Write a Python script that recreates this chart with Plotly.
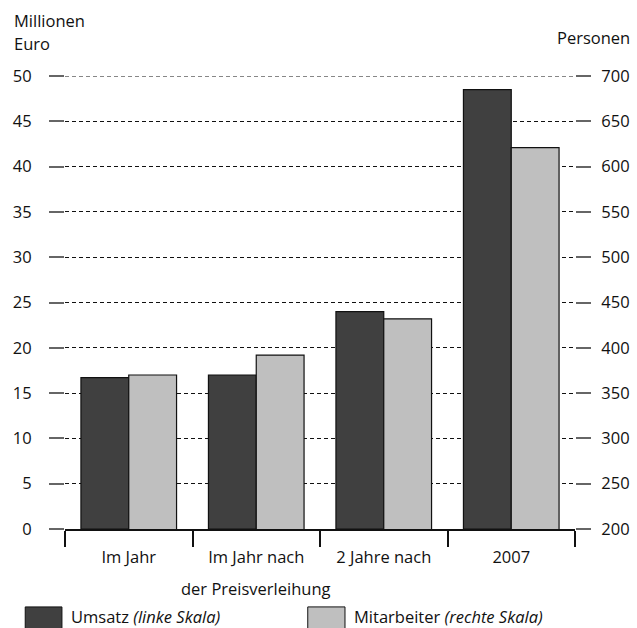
import plotly.graph_objects as go

categories = ["Im Jahr", "Im Jahr nach", "2 Jahre nach", "2007"]
umsatz = [16.7, 17.0, 24.0, 48.5]          # Millionen Euro (linke Skala)
mitarbeiter = [370, 392, 432, 621]          # Personen (rechte Skala)
left_ticks = list(range(0, 51, 5))
right_ticks = list(range(200, 701, 50))

FONT = "Open Sans"
FS = 16.5
DARK = "#404040"
LIGHT = "#bfbfbf"

fig = go.Figure()
fig.add_trace(go.Bar(x=categories, y=umsatz, name="Umsatz", offsetgroup=1,
                     marker=dict(color=DARK, line=dict(color="#111", width=1.2)),
                     yaxis="y", showlegend=False))
fig.add_trace(go.Bar(x=categories, y=mitarbeiter, name="Mitarbeiter", offsetgroup=2,
                     marker=dict(color=LIGHT, line=dict(color="#111", width=1.2)),
                     yaxis="y2", showlegend=False))

fig.update_layout(
    width=637, height=628,
    margin=dict(l=65, r=62, t=76, b=99, autoexpand=False),
    paper_bgcolor="white", plot_bgcolor="white",
    font=dict(family=FONT, size=FS, color="#111"),
    barmode="group", bargap=0.25, bargroupgap=0,
    xaxis=dict(type="category", tickson="boundaries", ticks="outside", ticklen=16,
               tickwidth=2, tickcolor="#111", showline=True, linecolor="#111",
               linewidth=2, showgrid=False, ticklabelstandoff=12,
               tickfont=dict(size=FS), automargin=False),
    yaxis=dict(range=[0, 50], tickvals=left_ticks, ticks="outside", ticklen=15,
               tickwidth=2, tickcolor="#666", showline=False, showgrid=True,
               gridcolor="#111", gridwidth=1, griddash="4px,3px", zeroline=False,
               ticklabelstandoff=14, tickfont=dict(size=FS), automargin=False),
    yaxis2=dict(range=[200, 700], tickvals=right_ticks, overlaying="y", side="right",
                ticks="outside", ticklen=15, tickwidth=2, tickcolor="#666",
                showline=False, showgrid=False, zeroline=False,
                ticklabelstandoff=7, tickfont=dict(size=FS), automargin=False),
)

# top gridline (at the edge of the range plotly omits it)
fig.add_shape(type="line", xref="paper", yref="y", x0=0, x1=1,
              y0=left_ticks[-1], y1=left_ticks[-1],
              line=dict(color="#111", width=1, dash="4px,3px"), layer="below")

# axis titles
fig.add_annotation(text="Millionen", xref="paper", yref="paper",
                   x=-0.104, y=1.1236, xanchor="left", yanchor="middle",
                   showarrow=False, font=dict(size=FS))
fig.add_annotation(text="Euro", xref="paper", yref="paper",
                   x=-0.104, y=1.0728, xanchor="left", yanchor="middle",
                   showarrow=False, font=dict(size=FS))
fig.add_annotation(text="Personen", xref="paper", yref="paper",
                   x=1.111, y=1.086, xanchor="right", yanchor="middle",
                   showarrow=False, font=dict(size=FS))
# second line of category label
fig.add_annotation(text="der Preisverleihung", xref="paper", yref="paper",
                   x=0.374, y=-0.131, xanchor="center", yanchor="middle",
                   showarrow=False, font=dict(size=FS))

# legend
fig.add_shape(type="rect", xref="paper", yref="paper", x0=-0.078, x1=-0.006,
              y0=-0.172, y1=-0.25, fillcolor=DARK, line=dict(color="#111", width=1))
fig.add_shape(type="rect", xref="paper", yref="paper", x0=0.476, x1=0.549,
              y0=-0.172, y1=-0.25, fillcolor=LIGHT, line=dict(color="#111", width=1))
fig.add_annotation(text="Umsatz <i>(linke Skala)</i>", xref="paper", yref="paper",
                   x=0.008, y=-0.194, xanchor="left", yanchor="middle",
                   showarrow=False, font=dict(size=FS))
fig.add_annotation(text="Mitarbeiter <i>(rechte Skala)</i>", xref="paper", yref="paper",
                   x=0.563, y=-0.194, xanchor="left", yanchor="middle",
                   showarrow=False, font=dict(size=FS))

fig.write_html("out.html")
